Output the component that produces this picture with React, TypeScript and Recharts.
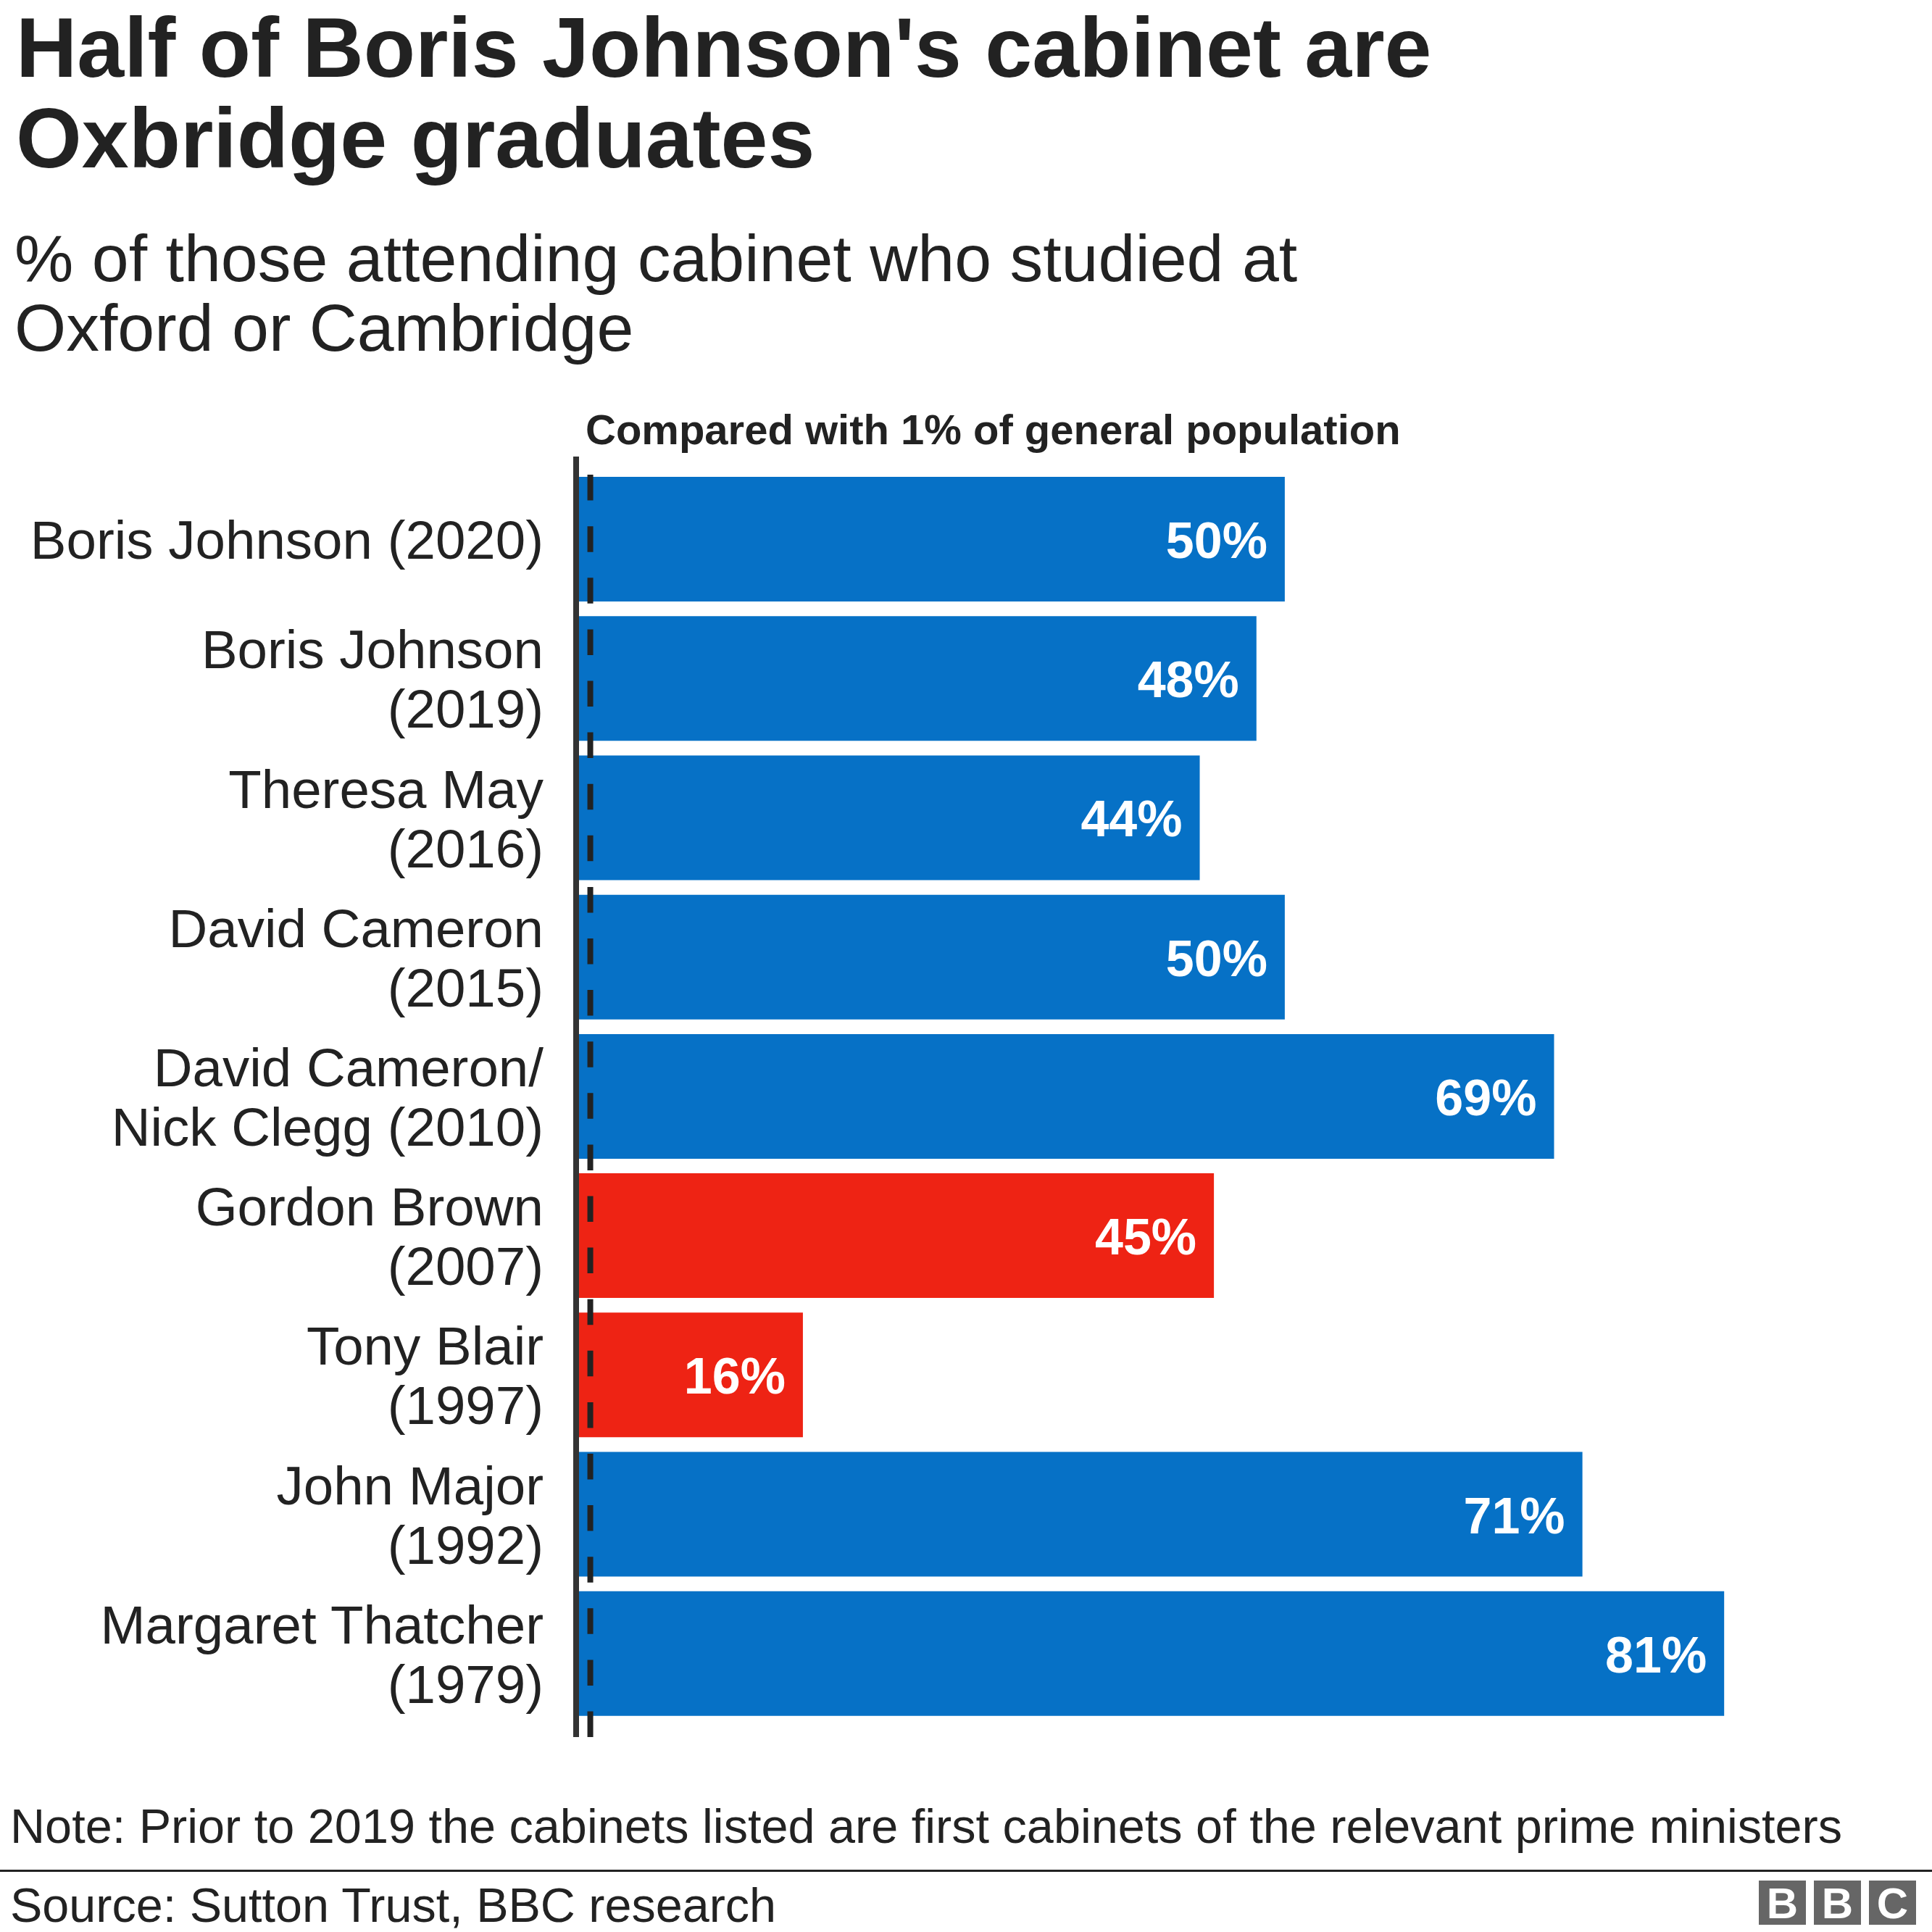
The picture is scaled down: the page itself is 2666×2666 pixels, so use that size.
import { BarChart, Bar, XAxis, YAxis, ReferenceLine, LabelList, Cell } from 'recharts'

const FONT = '"Liberation Sans", Arial, Helvetica, sans-serif'

// cabinets, top to bottom
const cabinets = [
  'Boris Johnson (2020)',
  'Boris Johnson (2019)',
  'Theresa May (2016)',
  'David Cameron (2015)',
  'David Cameron/Nick Clegg (2010)',
  'Gordon Brown (2007)',
  'Tony Blair (1997)',
  'John Major (1992)',
  'Margaret Thatcher (1979)',
]

const labelLines = [
  ['Boris Johnson (2020)'],
  ['Boris Johnson', '(2019)'],
  ['Theresa May', '(2016)'],
  ['David Cameron', '(2015)'],
  ['David Cameron/', 'Nick Clegg (2010)'],
  ['Gordon Brown', '(2007)'],
  ['Tony Blair', '(1997)'],
  ['John Major', '(1992)'],
  ['Margaret Thatcher', '(1979)'],
]

// % of cabinet who studied at Oxford or Cambridge
const oxbridgeShare = [50, 48, 44, 50, 69, 45, 16, 71, 81]
const party = ['con', 'con', 'con', 'con', 'con', 'lab', 'lab', 'con', 'con']
const generalPopulation = 1

const partyColor: Record<string, string> = {
  con: '#0671c6',
  lab: '#ee2314',
}

const data = cabinets.map((name, i) => ({
  name,
  value: oxbridgeShare[i],
  party: party[i],
}))

// eslint-disable-next-line @typescript-eslint/no-explicit-any
function CabinetTick({ x, y, payload }: any) {
  const lines = labelLines[cabinets.indexOf(payload.value)] || [payload.value]
  const first = lines.length === 1 ? 27 : -14
  return (
    <text textAnchor="end" fontSize={74.5} fill="#222" fontFamily={FONT}>
      {lines.map((l: string, i: number) => (
        <tspan key={i} x={x - 45} y={y + first + i * 82}>
          {l}
        </tspan>
      ))}
    </text>
  )
}

// eslint-disable-next-line @typescript-eslint/no-explicit-any
function ValueLabel({ x, y, width, height, value }: any) {
  return (
    <text
      x={x + width - 24}
      y={y + height / 2 + 26}
      textAnchor="end"
      fill="#fff"
      fontSize={70}
      fontWeight={700}
      fontFamily={FONT}
    >
      {value}%
    </text>
  )
}

// eslint-disable-next-line @typescript-eslint/no-explicit-any
function AxisRule({ x1, y1, y2 }: any) {
  const top = Math.min(y1, y2) - 18
  const bottom = Math.max(y1, y2) + 19
  return <line x1={x1} x2={x1} y1={top} y2={bottom} stroke="#333" strokeWidth={8} />
}

// eslint-disable-next-line @typescript-eslint/no-explicit-any
function PopulationRule({ x1, y1, y2 }: any) {
  const top = Math.min(y1, y2) - 18
  const bottom = Math.max(y1, y2) + 19
  // drawn upwards so the dash pattern starts at the bottom
  return (
    <line
      x1={x1}
      x2={x1}
      y1={bottom}
      y2={top}
      stroke="#222"
      strokeWidth={8}
      strokeDasharray="35.5 35.6"
    />
  )
}

export default function App() {
  return (
    <div style={{ position: 'relative', width: 2666, height: 2666, background: '#fff', fontFamily: FONT }}>
      <style>{'body{margin:0}'}</style>
      <BarChart
        width={2666}
        height={2666}
        data={data}
        layout="vertical"
        margin={{ top: 648, right: 13, bottom: 288, left: 0 }}
        barCategoryGap={10}
      >
        <XAxis type="number" domain={[0, 95]} hide />
        <YAxis
          type="category"
          dataKey="name"
          width={795}
          axisLine={false}
          tickLine={false}
          tickSize={0}
          tickMargin={0}
          tick={<CabinetTick />}
          interval={0}
        />
        <Bar dataKey="value" isAnimationActive={false}>
          {data.map((d, i) => (
            <Cell key={i} fill={partyColor[d.party]} />
          ))}
          <LabelList dataKey="value" content={<ValueLabel />} />
        </Bar>
        <ReferenceLine x={generalPopulation} shape={<PopulationRule />} />
        <ReferenceLine x={0} shape={<AxisRule />} />
      </BarChart>

      <svg
        width={2666}
        height={2666}
        style={{ position: 'absolute', left: 0, top: 0, pointerEvents: 'none' }}
        fontFamily={FONT}
      >
        <text x={22} y={106} fontSize={116.7} fontWeight={700} fill="#222">
          Half of Boris Johnson's cabinet are
        </text>
        <text x={22} y={231} fontSize={116.7} fontWeight={700} fill="#222">
          Oxbridge graduates
        </text>
        <text x={20} y={388} fontSize={91.5} fill="#222">
          % of those attending cabinet who studied at
        </text>
        <text x={20} y={484} fontSize={91.5} fill="#222">
          Oxford or Cambridge
        </text>
        <text x={808} y={613} fontSize={58} fontWeight={700} fill="#222">
          Compared with 1% of general population
        </text>

        <text x={14} y={2543} fontSize={66.6} fill="#222">
          Note: Prior to 2019 the cabinets listed are first cabinets of the relevant prime ministers
        </text>
        <rect x={0} y={2580} width={2666} height={3} fill="#222" />
        <text x={14} y={2652} fontSize={66.5} fill="#222">
          Source: Sutton Trust, BBC research
        </text>
        {['B', 'B', 'C'].map((ch, i) => (
          <g key={i}>
            <rect x={2427 + i * 76} y={2595} width={65} height={61} fill="#666" />
            <text
              x={2427 + i * 76 + 32.5}
              y={2647}
              textAnchor="middle"
              fontSize={60}
              fontWeight={700}
              fill="#fff"
            >
              {ch}
            </text>
          </g>
        ))}
      </svg>
    </div>
  )
}
